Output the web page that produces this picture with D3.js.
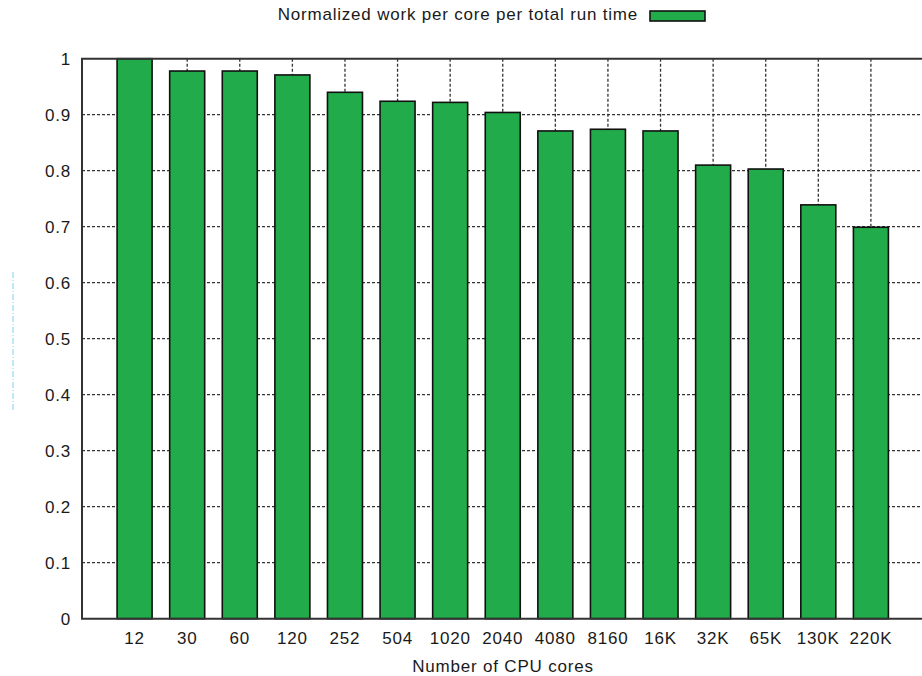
<!DOCTYPE html>
<html>
<head>
<meta charset="utf-8">
<script src="https://cdn.jsdelivr.net/npm/d3@7"></script>
<style>
  body { margin: 0; background: #fff; }
  text { font-family: "Liberation Sans", Arial, sans-serif; fill: #1a1a1a; font-size: 17px; letter-spacing: 0.8px; }
</style>
</head>
<body>
<div id="vis_canvas"></div>
<script>
// data
var cores = ["12", "30", "60", "120", "252", "504", "1020", "2040", "4080", "8160", "16K", "32K", "65K", "130K", "220K"];
var work = [1.0, 0.978, 0.978, 0.971, 0.94, 0.924, 0.922, 0.904, 0.871, 0.874, 0.871, 0.81, 0.803, 0.739, 0.699];
var yTicks = [0, 0.1, 0.2, 0.3, 0.4, 0.5, 0.6, 0.7, 0.8, 0.9, 1];
var seriesName = "Normalized work per core per total run time";

var W = 922, H = 676;
var plotLeft = 82, plotTop = 58.7, plotBottom = 618.7;

// x is index based like gnuplot histograms, -1 .. n
var x = d3.scaleLinear().domain([-1, cores.length]).range([plotLeft, 923.5]);
var y = d3.scaleLinear().domain([0, 1]).range([plotBottom, plotTop]);
var barW = 35;

var svg = d3.select("#vis_canvas").append("svg")
    .attr("width", W).attr("height", H);

// grid (dotted) behind bars
svg.selectAll(".hgrid").data(yTicks.filter(function(d) { return d > 0 && d < 1; }))
  .enter().append("line")
    .attr("class", "hgrid")
    .attr("x1", plotLeft).attr("x2", W)
    .attr("y1", function(d) { return y(d); })
    .attr("y2", function(d) { return y(d); })
    .attr("stroke", "#333").attr("stroke-width", 1.3)
    .attr("stroke-dasharray", "3,2");

svg.selectAll(".vgrid").data(cores)
  .enter().append("line")
    .attr("class", "vgrid")
    .attr("x1", function(d, i) { return x(i); })
    .attr("x2", function(d, i) { return x(i); })
    .attr("y1", plotTop).attr("y2", plotBottom)
    .attr("stroke", "#333").attr("stroke-width", 1.3)
    .attr("stroke-dasharray", "3,2");

// bars
svg.selectAll(".bar").data(work)
  .enter().append("rect")
    .attr("class", "bar")
    .attr("x", function(d, i) { return x(i) - barW / 2; })
    .attr("y", function(d) { return y(d); })
    .attr("width", barW)
    .attr("height", function(d) { return plotBottom - y(d); })
    .attr("fill", "#21ab4a")
    .attr("stroke", "#111").attr("stroke-width", 1.6);

// frame
svg.append("path")
    .attr("d", "M" + W + "," + plotTop + "H" + plotLeft + "V" + plotBottom + "H" + W)
    .attr("fill", "none").attr("stroke", "#333").attr("stroke-width", 2);

// y tick labels
svg.selectAll(".ylab").data(yTicks)
  .enter().append("text")
    .attr("class", "ylab")
    .attr("x", 71)
    .attr("y", function(d) { return y(d); })
    .attr("dy", "0.35em")
    .attr("text-anchor", "end")
    .text(function(d) { return d; });

// x tick labels
svg.selectAll(".xlab").data(cores)
  .enter().append("text")
    .attr("class", "xlab")
    .attr("x", function(d, i) { return x(i); })
    .attr("y", 644)
    .attr("text-anchor", "middle")
    .text(function(d) { return d; });

svg.append("text")
    .attr("x", 503).attr("y", 672)
    .attr("text-anchor", "middle")
    .text("Number of CPU cores");

// legend
svg.append("text")
    .attr("x", 638).attr("y", 20)
    .attr("text-anchor", "end")
    .text(seriesName);
svg.append("rect")
    .attr("x", 650).attr("y", 11)
    .attr("width", 55).attr("height", 10)
    .attr("fill", "#21ab4a")
    .attr("stroke", "#111").attr("stroke-width", 1.6);

// faint remnant of a clipped y label at the far left
svg.append("line")
    .attr("x1", 13).attr("x2", 13)
    .attr("y1", 272).attr("y2", 410)
    .attr("stroke", "#7fd0f0").attr("stroke-width", 1)
    .attr("stroke-dasharray", "6,2,1,2");
</script>
</body>
</html>
